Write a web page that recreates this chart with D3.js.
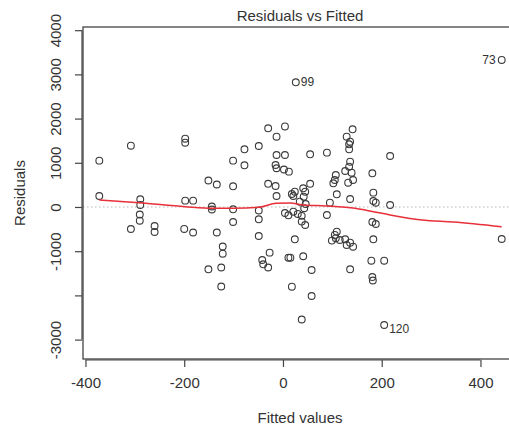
<!DOCTYPE html>
<html>
<head>
<meta charset="utf-8">
<script src="https://cdn.jsdelivr.net/npm/d3@7"></script>
<style>
  html, body { margin: 0; padding: 0; background: #fff; overflow: hidden; }
  svg { display: block; font-family: "Liberation Sans", Arial, sans-serif; }
</style>
</head>
<body>
<svg id="chart" width="509" height="430"></svg>
<script>
// ---- data ----
const fitted = [-372,-372,-308,-308,-289,-289,-290,-290,-260,-260,
  -198,-198,-198,-200,-182,-182,-151,-151,-144,-144,
  -134,-134,-125,-125,-122,-122,-101,-101,-101,-101,
  -78,-78,-49,-49,-49,-49,-42,-40,-30,-30,
  -30,-27,-13,-13,-15,-13,-15,-13,4,4,
  2,4,12,11,11,15,18,18,21,21,
  24,24,26,30,38,38,38,41,41,45,
  42,34,46,43,45,55,55,58,58,89,
  89,95,107,105,102,109,109,105,107,99,
  141,129,136,134,134,136,134,126,139,142,
  132,136,126,136,129,142,136,181,183,183,
  181,183,179,181,182,188,188,205,205,217,
  217,443,443,115];
const resid = [1048,249,1387,-498,174,45,-170,-310,-430,-566,
  1545,1455,143,-497,143,-577,599,-1410,11,-57,
  509,-577,-1369,-1799,-894,-1057,1048,468,-52,-340,
  1305,943,1380,-79,-278,-656,-1199,-1296,1780,525,
  -1369,-1033,1590,1176,950,876,475,249,1822,1176,
  848,-136,799,-188,-1147,-1147,294,-1803,249,-106,
  346,-731,2821,-158,-200,-330,-2545,423,-1115,346,
  233,120,68,-29,-407,525,1192,-1425,-2014,1229,
  -181,97,724,611,536,287,-559,-633,-706,-760,
  1758,1590,1477,1418,1305,1025,912,814,776,611,
  550,181,-731,-808,-860,-898,-1410,762,324,136,
  -340,-731,-1215,-1585,-1663,97,-385,-1215,-2670,1154,
  45,3326,-724,-747];
const labeledIds = ["99", "120", "73"];
const labeledFitted = [26, 205, 443];
const labeledResid = [2821, -2670, 3326];
const labeledSide = ["right", "right", "left"];

const smoothX = [-372,-291,-198,-142,-101,-48,-14,14,41,88,146,183,217,281,345,443];
const smoothY = [158,97,7,-29,-29,-7,84,90,45,23,-29,-106,-181,-294,-339,-446];

const xTicks = [-400,-200,0,200,400];
const yTicks = [-3000,-2000,-1000,0,1000,2000,3000,4000];
const yTickLabels = ["-3000","","-1000","0","1000","2000","3000","4000"];

const titleText = "Residuals vs Fitted";
const xTitle = "Fitted values";
const yTitle = "Residuals";

// ---- layout ----
const pL = 83, pR = 518, pT = 27, pB = 359;
const svg = d3.select("#chart");
const x = d3.scaleLinear().domain([-405, 476]).range([pL, pR]);
const y = d3.scaleLinear().domain([-3439, 4072]).range([pB, pT]);
const ink = "#333";

// zero reference line
svg.append("line")
  .attr("x1", pL).attr("x2", pR)
  .attr("y1", y(0)).attr("y2", y(0))
  .attr("stroke", "#b8b8b8").attr("stroke-width", 1)
  .attr("stroke-dasharray", "1.5,2.5");

// points
svg.append("g").selectAll("circle")
  .data(d3.range(fitted.length))
  .join("circle")
  .attr("cx", i => x(fitted[i]))
  .attr("cy", i => y(resid[i]))
  .attr("r", 3.4)
  .attr("fill", "none")
  .attr("stroke", "#3a3a3a")
  .attr("stroke-width", 1.1);

// smooth line
const line = d3.line().x(i => x(smoothX[i])).y(i => y(smoothY[i])).curve(d3.curveMonotoneX);
svg.append("path")
  .attr("d", line(d3.range(smoothX.length)))
  .attr("fill", "none")
  .attr("stroke", "#e8303a")
  .attr("stroke-width", 1.5);

// point labels
svg.append("g").selectAll("text")
  .data(d3.range(labeledIds.length))
  .join("text")
  .attr("x", i => x(labeledFitted[i]) + (labeledSide[i] === "right" ? 5 : -6))
  .attr("y", i => y(labeledResid[i]) + (labeledIds[i] === "120" ? 8 : 4))
  .attr("text-anchor", i => labeledSide[i] === "right" ? "start" : "end")
  .attr("font-size", 12)
  .attr("fill", ink)
  .text(i => labeledIds[i]);

// box
svg.append("rect")
  .attr("x", pL).attr("y", pT)
  .attr("width", pR - pL).attr("height", pB - pT)
  .attr("fill", "none").attr("stroke", "#444").attr("stroke-width", 1.3);

// x axis
const gx = svg.append("g").attr("transform", `translate(0,${pB + 1})`)
  .call(d3.axisBottom(x).tickValues(xTicks).tickSize(7).tickSizeOuter(0)
    .tickPadding(10).tickFormat(d3.format("d")));
gx.select(".domain").remove();
gx.append("line").attr("x1", x(xTicks[0])).attr("x2", x(xTicks[xTicks.length - 1]))
  .attr("stroke", "#444").attr("stroke-width", 1.2);
gx.selectAll(".tick line").attr("stroke", "#444").attr("stroke-width", 1.2);
gx.selectAll(".tick text").attr("font-size", 15).attr("fill", ink)
  .attr("font-family", "'Liberation Sans', Arial, sans-serif")
  .text(d => d < 0 ? "-" + Math.abs(d) : String(d));

// y axis
const gy = svg.append("g").attr("transform", `translate(${pL - 1},0)`)
  .call(d3.axisLeft(y).tickValues(yTicks).tickSize(7).tickSizeOuter(0)
    .tickFormat((d, i) => yTickLabels[i]));
gy.select(".domain").remove();
gy.append("line").attr("y1", y(yTicks[0])).attr("y2", y(yTicks[yTicks.length - 1]))
  .attr("stroke", "#444").attr("stroke-width", 1.2);
gy.selectAll(".tick line").attr("stroke", "#444").attr("stroke-width", 1.2);
gy.selectAll(".tick text")
  .attr("font-size", 15).attr("fill", ink)
  .attr("font-family", "'Liberation Sans', Arial, sans-serif")
  .attr("x", null).attr("dy", null)
  .attr("transform", "translate(-21,0) rotate(-90)")
  .attr("text-anchor", "middle");

// titles
svg.append("text").attr("x", 300).attr("y", 21)
  .attr("text-anchor", "middle").attr("font-size", 15).attr("fill", ink)
  .text(titleText);
svg.append("text").attr("x", 300).attr("y", 423)
  .attr("text-anchor", "middle").attr("font-size", 15).attr("fill", ink)
  .text(xTitle);
svg.append("text")
  .attr("transform", "translate(25,193) rotate(-90)")
  .attr("text-anchor", "middle").attr("font-size", 15).attr("fill", ink)
  .text(yTitle);
</script>
</body>
</html>
